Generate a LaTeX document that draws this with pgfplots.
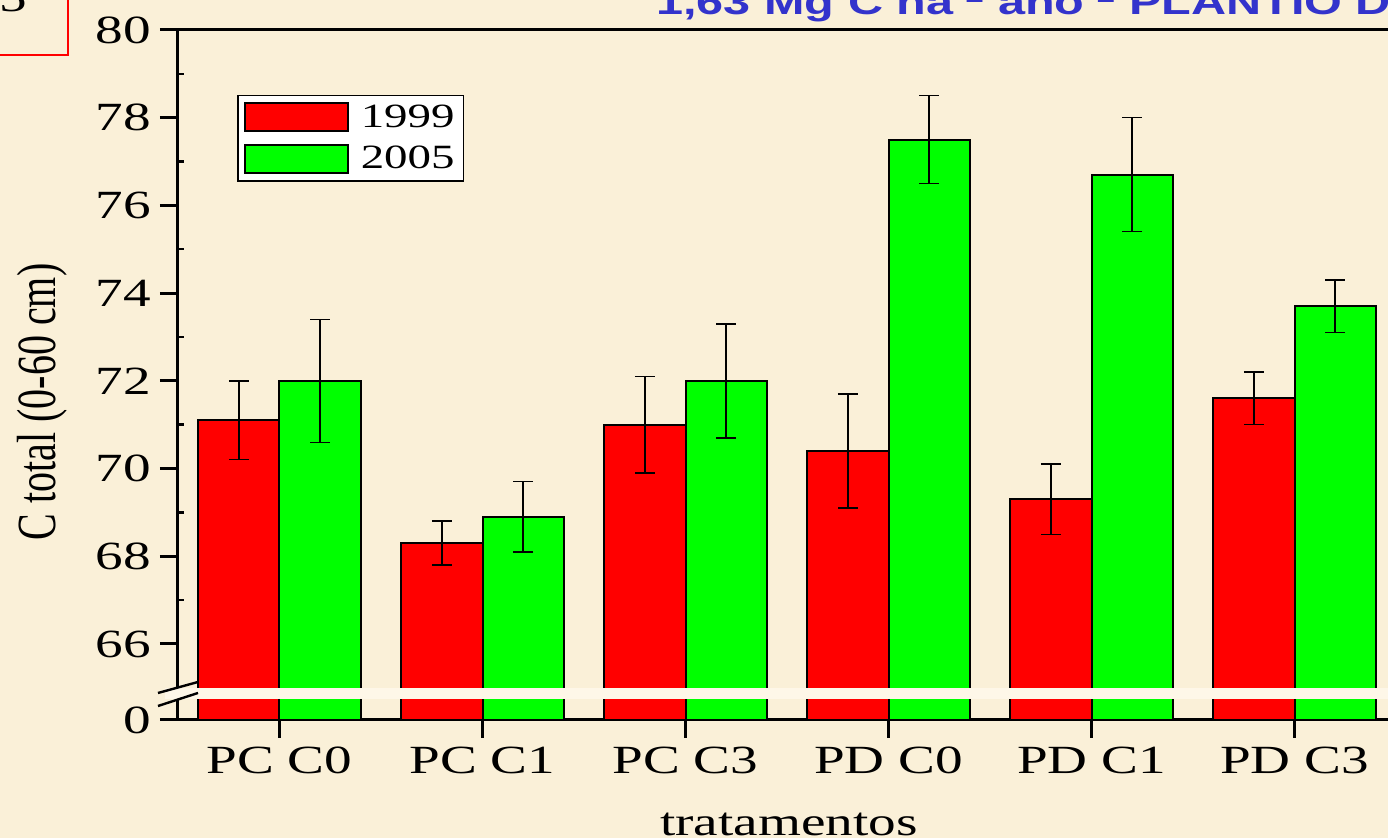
\documentclass[border=0pt]{standalone}
\usepackage{pgfplots}
\pgfplotsset{compat=1.18}
\usepackage{pgfplotstable}
\usepackage{fontspec}
\setmainfont{Liberation Serif}[FakeStretch=1.38]
\newfontfamily\plainserif{Liberation Serif}
\newfontfamily\titlefont{Liberation Sans}[FakeStretch=1.38]
\definecolor{paper}{RGB}{250,240,216}
\definecolor{band}{RGB}{254,247,232}
\definecolor{barred}{RGB}{255,0,0}
\definecolor{bargreen}{RGB}{0,255,0}
\definecolor{titleblue}{RGB}{51,51,204}

% total carbon (0-60 cm), mean and error per treatment
\pgfplotstableread{
x  y1999 e1999 y2005 e2005
0  71.1  0.9   72.0  1.4
1  68.3  0.5   68.9  0.8
2  71.0  1.1   72.0  1.3
3  70.4  1.3   77.5  1.0
4  69.3  0.8   76.7  1.3
5  71.6  0.6   73.7  0.6
}\ctotal

\begin{document}
\begin{tikzpicture}
\useasboundingbox (0pt,0pt) rectangle (694pt,419pt);
\clip (0pt,0pt) rectangle (694pt,419pt);
\fill[paper] (0pt,0pt) rectangle (694pt,419pt);

\begin{axis}[
  at={(89pt,59pt)}, anchor=south west,
  scale only axis, width=609pt, height=345pt,
  xmin=-0.5, xmax=5.5, ymin=64.267, ymax=80,
  axis line style={line width=1.5pt},
  every tick/.style={black, line width=1.5pt},
  tick align=outside,
  major tick length=9pt,
  minor tick length=3pt,
  minor tick style={xshift=3pt, line width=1.2pt},
  xtick={0,...,5},
  xticklabels={PC C0, PC C1, PC C3, PD C0, PD C1, PD C3},
  xtick pos=bottom,
  ytick={66,68,...,80},
  minor ytick={67,69,...,79},
  ytick pos=left,
  extra y ticks={64.267},
  extra y tick labels={0},
  extra y tick style={tick style={black, line width=1.5pt}},
  /pgf/number format/assume math mode=true,
  tick label style={font=\fontsize{20}{20}\selectfont, text=black},
  yticklabel style={xshift=-1pt},
  xticklabel style={yshift=-1pt},
  xlabel={tratamentos},
  xlabel style={at={(rel axis cs:0.5016,-0.168)}, anchor=base,
    font=\fontsize{20}{20}\selectfont},
  ylabel={\plainserif\scalebox{1}[1.38]{C total (0-60 cm)}},
  ylabel style={at={(rel axis cs:-0.1117,0.461)}, anchor=center,
    font=\fontsize{20}{20}\selectfont},
  bar width=0.4,
  legend style={at={(rel axis cs:0.0484,0.906)}, anchor=north west,
    draw=black, line width=0.8pt, fill=white,
    font=\fontsize{17}{17}\selectfont,
    inner xsep=3pt, inner ysep=3pt, row sep=5pt,
    nodes={inner sep=1.5pt}},
  legend cell align=left,
  legend image code/.code={%
    \draw[#1, line width=1pt] (0pt,-7pt) rectangle (51.5pt,7pt);
    \path (56pt,0pt);},
]
\addplot[ybar, bar shift=0, fill=barred, draw=black, line width=1pt,
  error bars/.cd, y dir=both, y explicit,
  error mark=-,
  error bar style={black, line width=0.7pt},
  error mark options={rotate=90, black, mark size=5pt, line width=0.7pt}]
  table[x expr=\thisrow{x}-0.2, y=y1999, y error=e1999] {\ctotal};
\addlegendentry{1999}
\addplot[ybar, bar shift=0, fill=bargreen, draw=black, line width=1pt,
  error bars/.cd, y dir=both, y explicit,
  error mark=-,
  error bar style={black, line width=0.7pt},
  error mark options={rotate=90, black, mark size=5pt, line width=0.7pt}]
  table[x expr=\thisrow{x}+0.2, y=y2005, y error=e2005] {\ctotal};
\addlegendentry{2005}
\end{axis}

% axis break between 0 and 66
\fill[band] (82.5pt,69.5pt) rectangle (694pt,75pt);
\draw[black, line width=1.2pt] (79pt,72.5pt) -- (99pt,78pt);
\draw[black, line width=1.2pt] (79pt,66pt) -- (99pt,72.5pt);

% heading and panel box
\node[anchor=base west, inner sep=0pt, text=titleblue,
  font=\titlefont\bfseries\fontsize{17.6}{18}\selectfont]
  at (328pt,411.5pt) {1,63 Mg C ha\textsuperscript{-1} ano\textsuperscript{-1} PLANTIO DIRETO};
\draw[red, line width=0.8pt] (-2.5pt,391.5pt) rectangle (34pt,425pt);
\node[anchor=base west, inner sep=0pt, font=\fontsize{20}{20}\selectfont]
  at (-0.5pt,413pt) {5};
\end{tikzpicture}
\end{document}
